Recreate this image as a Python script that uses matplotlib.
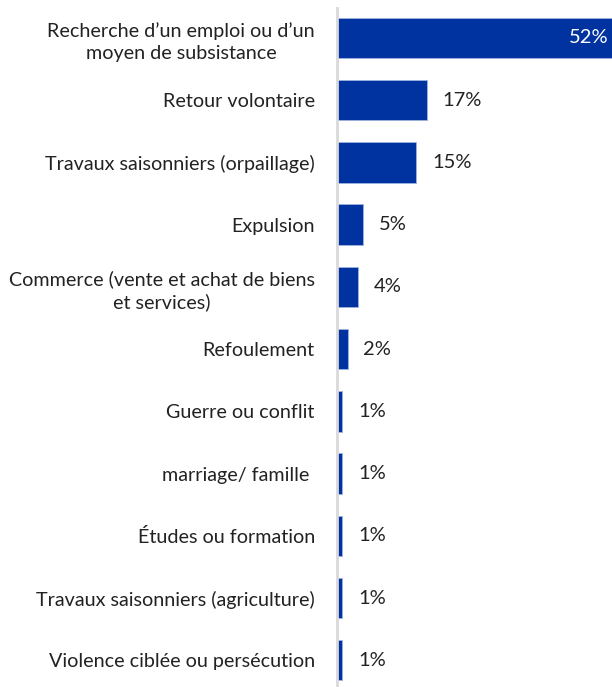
import matplotlib.pyplot as plt

categories = [
    "Recherche d\u2019un emploi ou d\u2019un\nmoyen de subsistance",
    "Retour volontaire",
    "Travaux saisonniers (orpaillage)",
    "Expulsion",
    "Commerce (vente et achat de biens\net services)",
    "Refoulement",
    "Guerre ou conflit",
    "marriage/ famille ",
    "\u00c9tudes ou formation",
    "Travaux saisonniers (agriculture)",
    "Violence cibl\u00e9e ou pers\u00e9cution",
]
values = [52, 17, 15, 5, 4, 2, 1, 1, 1, 1, 1]

plt.rcParams['font.family'] = ['Lato', 'DejaVu Sans']

fig = plt.figure(figsize=(6.12, 6.87), dpi=100)
ax = fig.add_axes([337 / 612, 0, 1 - 337 / 612, 1 - 8 / 687])

y = range(len(categories))
ax.barh(y, values, height=0.65, color='#0033A0', edgecolor='#9FB3E0', linewidth=0.6)

ax.set_xlim(0, 52)
ax.set_ylim(len(categories) - 1 + 0.43, -0.48)

ax.set_yticks(list(y))
ax.set_yticklabels(categories, fontsize=14.2, color='#222222', multialignment='center', linespacing=1.35)
ax.tick_params(axis='y', length=0, pad=16)
ax.set_xticks([])

for s in ['top', 'right', 'bottom']:
    ax.spines[s].set_visible(False)
ax.spines['left'].set_color('#D9D9D9')
ax.spines['left'].set_linewidth(2)

for i, v in enumerate(values):
    if v > 40:
        ax.text(v - 0.6, i, f"{v}%", va='center', ha='right', color='white', fontsize=14.5)
    else:
        ax.text(v + 3.0, i, f"{v}%", va='center', ha='left', color='#222222', fontsize=14.5)

fig.savefig('out.png', dpi=100)
